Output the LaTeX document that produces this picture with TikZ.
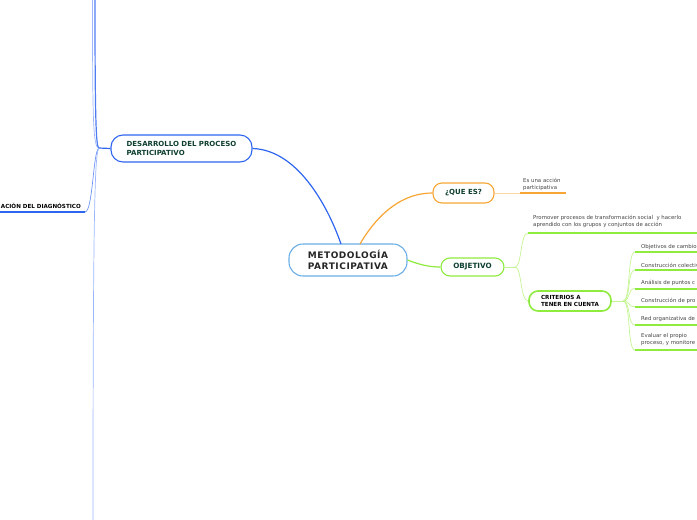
\documentclass[tikz,border=0pt]{standalone}
\usepackage{fontspec}
\setmainfont{DejaVu Sans}
\usetikzlibrary{positioning}
\definecolor{rootline}{HTML}{6AAEE6}
\definecolor{devblue}{HTML}{2F66F0}
\definecolor{paleblue}{HTML}{9DB6FF}
\definecolor{qorange}{HTML}{F7A635}
\definecolor{paleorange}{HTML}{FCD9A6}
\definecolor{objgreen}{HTML}{8FEB3E}
\definecolor{palegreen}{HTML}{C4F594}
\definecolor{deepgreen}{HTML}{0E3F30}
\definecolor{leafgray}{HTML}{444444}

\begin{document}
\begin{tikzpicture}[x=1pt, y=-1pt,
    every node/.style={inner sep=0pt, align=left},
    root/.style={draw=rootline, fill=white, line width=1.1pt, rounded corners=14pt,
      minimum width=118pt, minimum height=32pt, text=black!85,
      font=\fontsize{9}{10.7}\selectfont\bfseries\addfontfeatures{LetterSpace=6}},
    topic/.style={draw, fill=white, line width=1.1pt, rounded corners=9pt,
      text=deepgreen, font=\fontsize{7}{9}\selectfont\bfseries},
    leaf/.style={text=leafgray, font=\fontsize{5.4}{7.2}\selectfont},
    branch/.style={line width=1.2pt},
    twig/.style={line width=0.7pt},
    under/.style={line width=2pt}
]
\useasboundingbox (0,0) rectangle (697,520);

% central idea
\node[root] (root) at (348,260) {METODOLOGÍA\\PARTICIPATIVA};

% main topics
\node[topic, draw=devblue, minimum width=141pt, minimum height=27pt, rounded corners=12pt]
  (dev) at (181.5,148.5) {DESARROLLO DEL PROCESO\\PARTICIPATIVO};
\node[topic, draw=qorange, minimum width=61pt, minimum height=20pt] (que) at (463.5,193) {¿QUE ES?};
\node[topic, draw=objgreen, minimum width=63pt, minimum height=18pt,
  font=\fontsize{7.2}{9}\selectfont\bfseries] (obj) at (472.5,267) {OBJETIVO};
\node[topic, draw=objgreen, line width=1.6pt, minimum width=82pt, minimum height=20pt, text=black,
  font=\fontsize{5.6}{7.3}\selectfont\bfseries] (crit) at (570,301) {CRITERIOS A\\TENER EN CUENTA};

% root connectors
\coordinate (root-n1) at (341,244);
\coordinate (root-n2) at (360,244);
\draw[branch, devblue] (root-n1) .. controls (330,212) and (300,150) .. (dev.east);
\draw[branch, qorange] (root-n2) .. controls (380,210) and (405,193) .. (que.west);
\draw[branch, objgreen] (root.east) .. controls (420,265) and (430,267) .. (obj.west);

% que es
\coordinate (que-j) at (520,193);
\coordinate (que-e) at (566,193);
\node[leaf, anchor=west] (que-txt) at (523,184.5) {Es una acción\\participativa};
\draw[twig, paleorange] (que.east) -- (que-j);
\draw[under, qorange] (que-j) -- (que-e);

% objetivo
\coordinate (obj-j) at (515,267);
\coordinate (prom) at (528,233);
\coordinate (prom-e) at (697,233);
\node[leaf, anchor=west] (prom-txt) at (533,221.5)
  {Promover procesos de transformación social~ y hacerlo\\aprendido con los grupos y conjuntos de acción};
\draw[twig, palegreen] (obj.east) -- (obj-j);
\draw[twig, palegreen] (obj-j) .. controls (522,267) and (520,233) .. (prom);
\draw[under, objgreen] (prom) -- (prom-e);
\draw[twig, palegreen] (obj-j) .. controls (522,267) and (520,301) .. (crit.west);

% criterios
\coordinate (crit-j) at (623,301);
\draw[twig, palegreen] (crit.east) -- (crit-j);
\foreach \y/\ty/\txt [count=\i] in {
    252/246.7/Objetivos de cambio,
    270/265/Construcción colectiv,
    288.5/283.2/Análisis de puntos c,
    306.7/300.9/Construcción de pro,
    325/318.9/Red organizativa de,
    350/339.8/{Evaluar el propio\\proceso, y monitore}} {
  \coordinate (leaf\i) at (635,\y);
  \coordinate (leafend\i) at (697,\y);
  \node[leaf, anchor=west] (leaftxt\i) at (641,\ty) {\txt};
  \draw[twig, palegreen] (crit-j) .. controls (631,301) and (627,\y) .. (leaf\i);
  \draw[under, objgreen] (leaf\i) -- (leafend\i);
}

% desarrollo
\coordinate (dev-j) at (99,148);
\coordinate (top-a) at (95,0);
\coordinate (top-b) at (92.5,0);
\coordinate (diag) at (85,212);
\coordinate (diag-e) at (0,212);
\coordinate (low) at (93,520);
\draw[branch, devblue] (dev.west) -- (dev-j);
\draw[twig, paleblue] (dev-j) .. controls (93,148) and (92.5,120) .. (top-b);
\draw[branch, devblue!85] (dev-j) .. controls (96,148) and (95,120) .. (top-a);
\draw[twig, devblue!70] (dev-j) .. controls (93,150) and (93,212) .. (diag);
\draw[under, devblue] (diag) -- (diag-e);
\node[anchor=east, font=\fontsize{5.6}{6}\selectfont\bfseries, text=black] (diag-txt) at (81,205.5)
  {ACIÓN DEL DIAGNÓSTICO};
\draw[twig, paleblue] (dev-j) .. controls (95,152) and (93,200) .. (low);
\end{tikzpicture}
\end{document}
